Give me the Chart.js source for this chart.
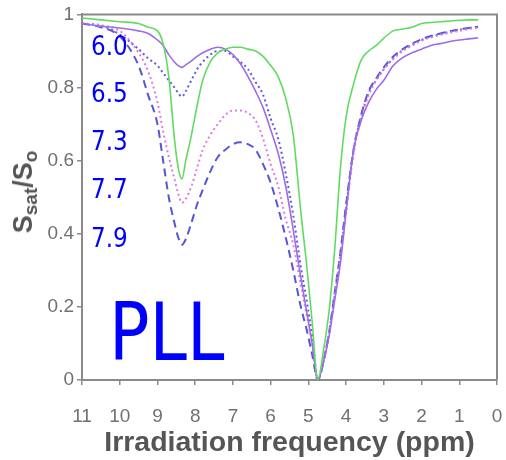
<!DOCTYPE html>
<html>
<head>
<meta charset="utf-8">
<script src="https://cdn.jsdelivr.net/npm/chart.js@4"></script>
<style>
    html, body { margin: 0; background: #fff; overflow: hidden; }
    #wrap { position: relative; width: 506px; height: 460px; overflow: hidden; }
    #chart { display: block; }
    .note { position: absolute; color: #0000ff; font-family: "DejaVu Sans"; line-height: 1; white-space: nowrap; transform-origin: left top; }
    .ph { font-size: 26px; transform: scaleX(0.89); }
    #pll { font-size: 80px; transform: scaleX(0.84); left: 109px; top: 293px; }
    #ytitle { position: absolute; left: 25px; top: 192px; transform: translate(-50%, -50%) rotate(-90deg);
        font: bold 27px "Liberation Sans"; color: #555; white-space: nowrap; }
    #ytitle sub { font-size: 19px; vertical-align: -5px; }
</style>
</head>
<body>
<div id="wrap">
    <canvas id="chart"></canvas>
    <div id="ytitle">S<sub>sat</sub>/S<sub>o</sub></div>
    <div class="note ph" style="left:91px; top:33px">6.0</div>
    <div class="note ph" style="left:91px; top:80px">6.5</div>
    <div class="note ph" style="left:91px; top:128px">7.3</div>
    <div class="note ph" style="left:91px; top:176px">7.7</div>
    <div class="note ph" style="left:91px; top:225px">7.9</div>
    <div class="note" id="pll">PLL</div>
</div>
<script>
// irradiation offsets (ppm), shared by all curves
const ppm = [11, 10.5, 10, 9.5, 9.25, 9.0, 8.85, 8.7, 8.55, 8.45,
    8.35, 8.25, 8.1, 7.95, 7.8, 7.6, 7.4, 7.2, 7.0, 6.8,
    6.6, 6.4, 6.2, 6.0, 5.8, 5.6, 5.4, 5.2, 5.05, 4.9,
    4.75, 4.6, 4.45, 4.3, 4.15, 4.0, 3.8, 3.6, 3.4, 3.2,
    3.0, 2.75, 2.5, 2.25, 2.0, 1.75, 1.5, 1.25, 1.0, 0.75, 0.5];

// Ssat/So for each curve
const greenSolid = [0.99, 0.985, 0.98, 0.975, 0.965, 0.955, 0.92, 0.83, 0.66, 0.58,
    0.55, 0.6, 0.67, 0.75, 0.82, 0.87, 0.895, 0.905, 0.91, 0.91,
    0.905, 0.9, 0.885, 0.86, 0.83, 0.77, 0.67, 0.46, 0.32, 0.16,
    0.0, 0.08, 0.19, 0.36, 0.58, 0.72, 0.81, 0.875, 0.9, 0.915,
    0.935, 0.955, 0.96, 0.965, 0.975, 0.978, 0.98, 0.982, 0.984, 0.985, 0.985];

const purpleSolid = [0.975, 0.968, 0.963, 0.955, 0.948, 0.93, 0.915, 0.89, 0.87, 0.86,
    0.855, 0.862, 0.873, 0.885, 0.895, 0.905, 0.91, 0.905, 0.89, 0.865,
    0.83, 0.79, 0.745, 0.685, 0.62, 0.53, 0.41, 0.28, 0.19, 0.1,
    0.0, 0.05, 0.12, 0.22, 0.32, 0.46, 0.63, 0.71, 0.76, 0.795,
    0.82, 0.86, 0.882, 0.895, 0.905, 0.915, 0.92, 0.926, 0.93, 0.933, 0.936];

const blueDotted = [0.975, 0.97, 0.945, 0.905, 0.88, 0.86, 0.84, 0.82, 0.80, 0.785,
    0.775, 0.79, 0.82, 0.85, 0.87, 0.89, 0.9, 0.9, 0.885, 0.87,
    0.85, 0.815, 0.78, 0.715, 0.66, 0.565, 0.45, 0.31, 0.22, 0.12,
    0.0, 0.05, 0.13, 0.23, 0.34, 0.47, 0.63, 0.72, 0.785, 0.82,
    0.85, 0.88, 0.902, 0.917, 0.93, 0.94, 0.946, 0.953, 0.958, 0.962, 0.966];

const pinkDotted = [0.975, 0.97, 0.955, 0.895, 0.845, 0.76, 0.68, 0.61, 0.55, 0.51,
    0.485, 0.495, 0.53, 0.58, 0.63, 0.67, 0.70, 0.725, 0.737, 0.737,
    0.73, 0.71, 0.66, 0.59, 0.53, 0.44, 0.37, 0.26, 0.18, 0.1,
    0.0, 0.05, 0.13, 0.23, 0.34, 0.46, 0.62, 0.715, 0.78, 0.82,
    0.85, 0.878, 0.9, 0.915, 0.928, 0.937, 0.944, 0.95, 0.955, 0.96, 0.963];

const blueDashed = [0.975, 0.965, 0.94, 0.86, 0.78, 0.70, 0.60, 0.50, 0.43, 0.39,
    0.37, 0.385, 0.43, 0.48, 0.52, 0.57, 0.61, 0.63, 0.645, 0.65,
    0.645, 0.63, 0.59, 0.54, 0.47, 0.39, 0.3, 0.2, 0.14, 0.07,
    0.0, 0.05, 0.13, 0.24, 0.35, 0.48, 0.63, 0.725, 0.79, 0.825,
    0.855, 0.885, 0.905, 0.92, 0.932, 0.941, 0.948, 0.954, 0.959, 0.963, 0.966];

const axisGray = '#8a8a8a';

function toPoints(values) {
    return ppm.map((x, i) => ({ x: x, y: values[i] }));
}

function line(values, color, dash, width) {
    return {
        data: toPoints(values),
        borderColor: color,
        borderWidth: width,
        borderDash: dash,
        pointRadius: 0,
        cubicInterpolationMode: 'monotone',
        fill: false
    };
}

// top and right edges of the plot frame
const framePlugin = {
    id: 'frame',
    afterDraw(chart) {
        const a = chart.chartArea;
        const ctx = chart.ctx;
        ctx.save();
        ctx.strokeStyle = axisGray;
        ctx.lineWidth = 2;
        ctx.beginPath();
        ctx.moveTo(a.left, a.top);
        ctx.lineTo(a.right, a.top);
        ctx.lineTo(a.right, a.bottom);
        ctx.stroke();
        ctx.restore();
    }
};

new Chart(document.getElementById('chart'), {
    type: 'line',
    data: {
        datasets: [
            line(greenSolid, '#5fdc5f', [], 1.6),
            line(purpleSolid, '#9d6cea', [], 1.6),
            line(pinkDotted, '#e07ae0', [2, 3], 2),
            line(blueDotted, '#5a5ae6', [2, 3], 2),
            line(blueDashed, '#5555d6', [8, 5], 2)
        ]
    },
    options: {
        responsive: true,
        maintainAspectRatio: false,
        animation: false,
        layout: { padding: { top: 14, right: 9, left: 0, bottom: 0 } },
        plugins: {
            legend: { display: false },
            tooltip: { enabled: false }
        },
        scales: {
            x: {
                type: 'linear',
                reverse: true,
                min: 0,
                max: 11,
                afterFit: (scale) => {
                    scale.height = 80;
                    // tick padding would otherwise eat into the plot width
                    scale.paddingLeft = 0;
                    scale.paddingRight = 0;
                },
                ticks: {
                    stepSize: 1,
                    autoSkip: false,
                    maxRotation: 0,
                    padding: 20,
                    color: '#707070',
                    font: { family: 'Liberation Sans', size: 19 }
                },
                grid: { drawOnChartArea: false, drawTicks: true, tickLength: 5, color: axisGray, lineWidth: 1.5 },
                border: { display: true, color: axisGray, width: 2 },
                title: {
                    display: true,
                    text: 'Irradiation frequency (ppm)',
                    color: '#555',
                    padding: { top: 0, bottom: 0 },
                    font: { family: 'Liberation Sans', size: 28.5, weight: 'bold' }
                }
            },
            y: {
                min: 0,
                max: 1,
                afterFit: (scale) => { scale.width = 82; },
                ticks: {
                    stepSize: 0.2,
                    padding: 3,
                    color: '#707070',
                    font: { family: 'Liberation Sans', size: 19 },
                    callback: (value) => String(Number(value.toFixed(1)))
                },
                grid: { drawOnChartArea: false, drawTicks: true, tickLength: 5, color: axisGray, lineWidth: 1.5 },
                border: { display: true, color: axisGray, width: 2 }
            }
        }
    },
    plugins: [framePlugin]
});
</script>
</body>
</html>
